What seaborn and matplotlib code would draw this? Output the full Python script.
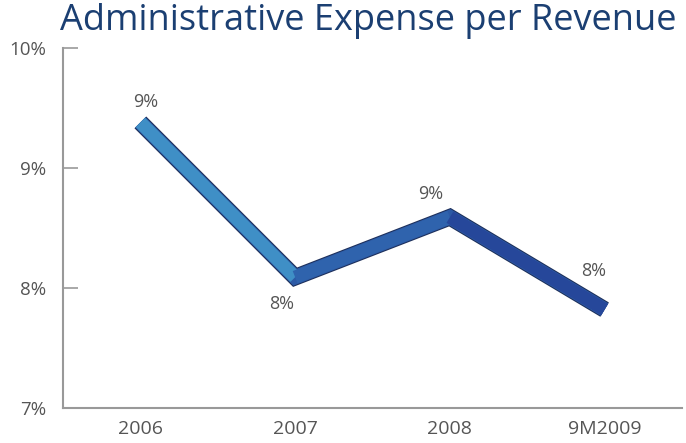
import matplotlib
matplotlib.use("Agg")
import matplotlib.pyplot as plt
import matplotlib.patheffects as pe
import seaborn as sns
import pandas as pd

categories = ["2006", "2007", "2008", "9M2009"]
values = [9.38, 8.09, 8.59, 7.82]
y_ticks = [7, 8, 9, 10]
y_tick_labels = ["7%", "8%", "9%", "10%"]
title = "Administrative Expense per Revenue"

seg_colors = ["#3f8fc6", "#2f63ad", "#26479a"]

sns.set_theme(style="white")
plt.rcParams["font.family"] = ["Open Sans", "DejaVu Sans"]

fig = plt.figure(figsize=(6.86, 4.43), dpi=100)
ax = fig.add_axes([63 / 686, 35 / 443, (682 - 63) / 686, (408 - 48) / 443])

df = pd.DataFrame({"x": range(len(categories)), "v": values})
sns.lineplot(data=df, x="x", y="v", ax=ax, color="#2c5aa5", linewidth=10.5,
             solid_joinstyle="miter", solid_capstyle="butt",
             path_effects=[pe.Stroke(linewidth=12, foreground="#1d2f5a"), pe.Normal()])
for i in range(len(values) - 1):
    ax.plot(df["x"].iloc[i:i + 2], df["v"].iloc[i:i + 2], color=seg_colors[i],
            linewidth=9.5, solid_capstyle="butt", solid_joinstyle="miter")

offsets = [(4, 15), (-10, -19), (-14, 17), (-8, 28)]
for i, v in enumerate(values):
    ax.annotate(f"{round(v):.0f}%", (i, v), xytext=offsets[i], textcoords="offset points",
                ha="center", va="center", fontsize=13, color="#555555")

ax.set_xlim(-0.5, len(categories) - 0.5)
ax.set_ylim(7, 10)
ax.set_yticks(y_ticks)
ax.set_yticklabels(y_tick_labels)
ax.set_xticks(range(len(categories)))
ax.set_xticklabels(categories)
ax.set_xticks([i + 0.5 for i in range(len(categories))], minor=True)
ax.tick_params(axis="x", which="major", length=0, pad=9, labelsize=14, labelcolor="#555555")
ax.tick_params(axis="x", which="minor", direction="in", length=6, width=1.2, color="#999999")
ax.tick_params(axis="y", which="major", direction="in", length=11, width=1.2, color="#999999",
               pad=12, labelsize=13.5, labelcolor="#555555", left=True)
ax.set_xlabel("")
ax.set_ylabel("")
for s in ["top", "right"]:
    ax.spines[s].set_visible(False)
for s in ["left", "bottom"]:
    ax.spines[s].set_color("#999999")
    ax.spines[s].set_linewidth(1.5)

fig.text(368 / 686, 1 - 21 / 443, title, ha="center", va="center", fontsize=26, color="#1b3f72")

fig.savefig("out.png", dpi=100)
